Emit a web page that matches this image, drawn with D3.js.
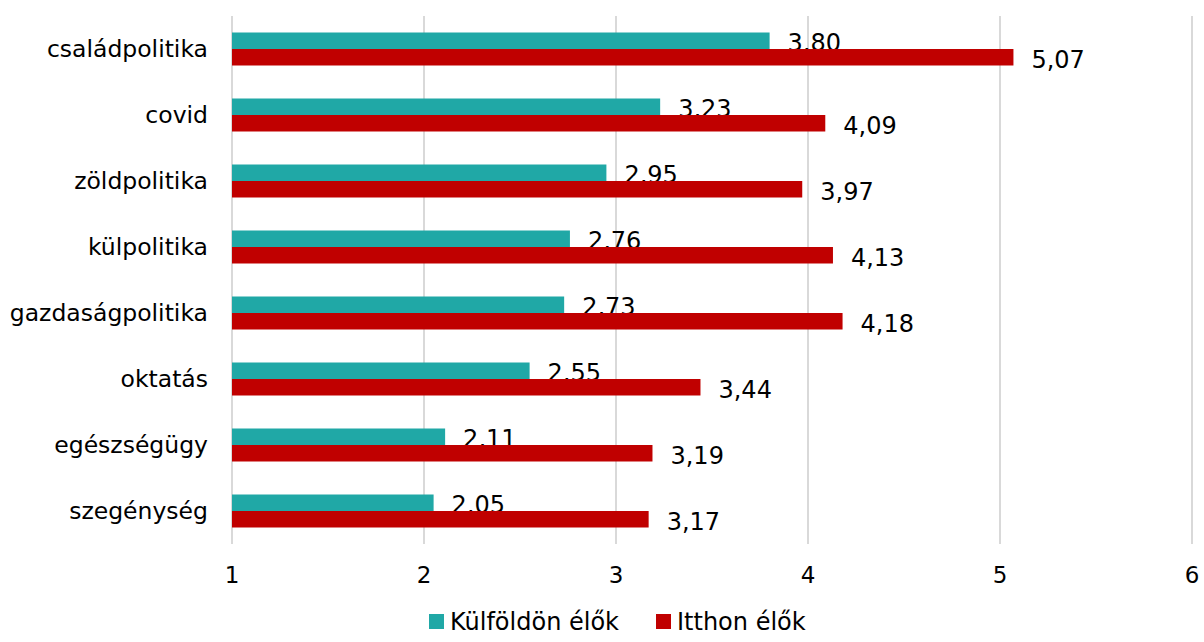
<!DOCTYPE html>
<html>
<head>
<meta charset="utf-8">
<script src="https://cdn.jsdelivr.net/npm/d3@7"></script>
<style>
  body { margin: 0; background: #fff; }
  svg text { font-family: "DejaVu Sans", sans-serif; fill: #000; }
</style>
</head>
<body>
<div id="chart"></div>
<script>
// categories, top to bottom
var categories = ["családpolitika", "covid", "zöldpolitika", "külpolitika",
  "gazdaságpolitika", "oktatás", "egészségügy", "szegénység"];
var seriesNames = ["Külföldön élők", "Itthon élők"];
var kulfoldon = [3.80, 3.23, 2.95, 2.76, 2.73, 2.55, 2.11, 2.05];
var itthon = [5.07, 4.09, 3.97, 4.13, 4.18, 3.44, 3.19, 3.17];
var xTicks = [1, 2, 3, 4, 5, 6];
var colors = ["#20a8a6", "#c00000"];

var W = 1204, H = 642;
var margin = { top: 16, right: 12, bottom: 98, left: 232 },
  width = W - margin.left - margin.right,
  height = H - margin.top - margin.bottom;

var svg = d3.select("#chart").append("svg")
  .attr("width", W).attr("height", H)
  .append("g")
  .attr("transform", "translate(" + margin.left + "," + margin.top + ")");

var x = d3.scaleLinear().domain([1, 6]).range([0, 960]);
var y = d3.scaleBand().domain(categories).range([0, height]).paddingInner(0.5).paddingOuter(0.25);
var ySub = d3.scaleBand().domain([0, 1]).range([0, y.bandwidth()]);

// gridlines
svg.append("g").selectAll("line").data(xTicks).join("line")
  .attr("x1", d => x(d)).attr("x2", d => x(d))
  .attr("y1", 0).attr("y2", height)
  .attr("stroke", "#d9d9d9").attr("stroke-width", 2);

// x tick labels
svg.append("g").selectAll("text").data(xTicks).join("text")
  .attr("x", d => x(d)).attr("y", height + 39)
  .attr("text-anchor", "middle").attr("font-size", "23px")
  .text(d => d);

// category labels
svg.append("g").selectAll("text").data(categories).join("text")
  .attr("x", -24).attr("y", d => y(d) + y.bandwidth() / 2)
  .attr("dy", "0.35em")
  .attr("text-anchor", "end").attr("font-size", "23.5px")
  .text(d => d);

var fmt = v => v.toFixed(2).replace(".", ",");

[kulfoldon, itthon].forEach(function (vals, s) {
  var g = svg.append("g");
  g.selectAll("rect").data(vals).join("rect")
    .attr("x", x(1))
    .attr("y", (d, i) => y(categories[i]) + ySub(s))
    .attr("width", d => x(d) - x(1))
    .attr("height", ySub.bandwidth())
    .attr("fill", colors[s]);
  g.selectAll("text").data(vals).join("text")
    .attr("x", d => x(d) + 18)
    .attr("y", (d, i) => y(categories[i]) + ySub(s) + ySub.bandwidth() + 2)
    .attr("font-size", "24px")
    .text(fmt);
});

// legend
var legend = d3.select("svg").append("g");
var legX = [429, 656];
seriesNames.forEach(function (n, i) {
  legend.append("rect").attr("x", legX[i]).attr("y", 614)
    .attr("width", 15).attr("height", 15).attr("fill", colors[i]);
  legend.append("text").attr("x", legX[i] + 21).attr("y", 630)
    .attr("font-size", "24px").text(n);
});
</script>
</body>
</html>
